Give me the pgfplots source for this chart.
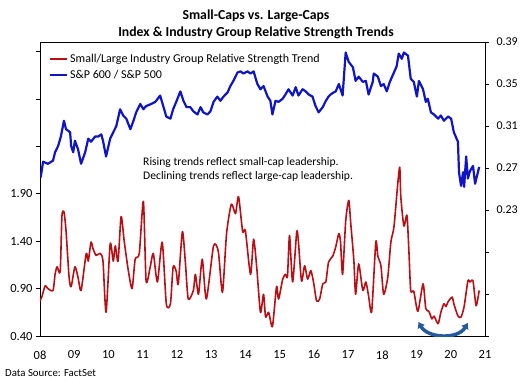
\documentclass[border=0pt]{standalone}
\usepackage{fontspec}
\setmainfont{Carlito}
\usepackage{pgfplots}
\pgfplotsset{compat=1.18}
\usetikzlibrary{arrows.meta}
\definecolor{redline}{RGB}{185,15,20}
\definecolor{blueline}{RGB}{15,20,200}
\definecolor{arrowblue}{RGB}{35,90,160}
\begin{document}
\begin{tikzpicture}[x=1pt,y=1pt]
\useasboundingbox (-40,-45) rectangle (485,336);
\begin{axis}[
  at={(0,0)}, anchor=south west,
  width=445pt, height=294pt, scale only axis,
  xmin=8, xmax=21, ymin=0.4, ymax=3.5,
  xtick={8,...,21},
  xticklabels={08,09,10,11,12,13,14,15,16,17,18,19,20,21},
  ytick={0.4,0.9,1.4,1.9,2.4,2.9,3.4},
  yticklabels={0.40,0.90,1.40,1.90,{},{},{}},
  ytick pos=left,
  tick align=outside,
  major tick length=4pt,
  x tick style={draw=none},
  xticklabel style={yshift=-7pt},
  tick label style={font=\fontsize{12.5}{14}\selectfont},
  axis line style={black, line width=0.6pt},
  tick style={black, line width=0.6pt},
  legend style={at={(0,1)}, anchor=north west, draw=none, fill=none,
    font=\fontsize{12}{14}\selectfont, row sep=2pt, xshift=6pt, yshift=-8pt,
    cells={anchor=west}},
  legend image code/.code={\draw[#1] (0pt,0pt) -- (17pt,0pt);},
  clip=true,
]
\addplot[redline, line width=1.6pt, line join=round, smooth, tension=0.4] coordinates {
(8.00,0.77) (8.06,0.82) (8.15,0.93) (8.23,0.90) (8.38,0.88) (8.44,1.05) (8.50,1.13) (8.59,1.08)
(8.64,1.66) (8.70,1.71) (8.76,1.51) (8.85,1.02) (8.91,0.92) (9.02,1.13) (9.11,1.02) (9.20,0.88)
(9.35,1.27) (9.41,1.19) (9.49,1.39) (9.55,1.32) (9.64,1.25) (9.76,1.27) (9.84,1.19) (9.93,0.65)
(10.05,1.37) (10.14,1.19) (10.20,1.35) (10.28,1.19) (10.37,1.66) (10.46,1.40) (10.58,1.09) (10.69,0.90)
(10.78,1.21) (10.90,1.27) (11.02,1.82) (11.10,0.98) (11.22,1.13) (11.31,1.27) (11.43,0.97) (11.57,1.39)
(11.69,0.74) (11.81,0.74) (11.89,1.13) (11.98,1.08) (12.04,0.95) (12.16,1.50) (12.25,1.16) (12.33,0.79)
(12.48,0.88) (12.54,1.05) (12.63,0.84) (12.74,1.21) (12.86,0.79) (13.07,1.35) (13.21,1.29) (13.33,0.86)
(13.45,1.48) (13.59,1.79) (13.71,1.69) (13.80,1.87) (13.92,1.50) (14.00,1.51) (14.15,1.05) (14.24,1.42)
(14.33,1.13) (14.44,0.65) (14.53,0.84) (14.59,0.60) (14.68,0.65) (14.79,0.50) (14.91,0.92) (14.97,0.79)
(15.09,1.00) (15.17,1.05) (15.23,1.03) (15.29,1.46) (15.38,0.97) (15.50,1.50) (15.55,1.39) (15.64,0.98)
(15.73,1.14) (15.82,1.00) (15.91,1.09) (15.99,0.97) (16.08,0.77) (16.17,0.79) (16.26,0.95) (16.35,0.97)
(16.43,1.18) (16.55,1.24) (16.64,1.34) (16.73,1.48) (16.78,1.39) (16.84,1.05) (16.93,1.61) (17.02,1.83)
(17.08,1.58) (17.17,1.19) (17.22,0.84) (17.31,1.16) (17.43,0.88) (17.52,0.97) (17.60,0.82) (17.69,0.66)
(17.81,1.39) (17.87,1.24) (17.96,1.14) (18.04,0.84) (18.16,1.02) (18.25,1.39) (18.34,1.55) (18.45,2.00)
(18.51,2.18) (18.54,1.87) (18.63,1.56) (18.72,1.67) (18.78,1.27) (18.83,0.88) (18.92,0.87) (19.04,0.66)
(19.19,0.95) (19.27,0.69) (19.36,0.66) (19.45,0.58) (19.51,0.61) (19.63,0.53) (19.71,0.65) (19.80,0.74)
(19.86,0.71) (19.92,0.76) (20.04,0.81) (20.09,0.74) (20.21,0.61) (20.30,0.60) (20.39,0.71) (20.50,0.98)
(20.56,0.97) (20.65,0.98) (20.74,0.72) (20.83,0.88)
};
\addlegendentry{Small/Large Industry Group Relative Strength Trend}
\addlegendimage{blueline, line width=2pt}
\addlegendentry{S\&P 600 / S\&P 500}
\draw[arrowblue, line width=3.5pt, {Latex[length=6pt,width=9pt]}-{Latex[length=6pt,width=9pt]}]
  (axis cs:19.05,0.55) to[out=-60,in=-120] (axis cs:20.50,0.54);
\end{axis}
\begin{axis}[
  at={(0,0)}, anchor=south west,
  width=445pt, height=294pt, scale only axis,
  xmin=8, xmax=21, ymin=0.11, ymax=0.39,
  axis x line=none,
  axis y line*=right,
  ytick={0.11,0.15,0.19,0.23,0.27,0.31,0.35,0.39},
  yticklabels={{},{},{},0.23,0.27,0.31,0.35,0.39},
  tick align=outside,
  major tick length=4pt,
  yticklabel style={xshift=4pt},
  tick label style={font=\fontsize{12}{14}\selectfont},
  axis line style={black, line width=0.6pt},
  tick style={black, line width=0.6pt},
]
\addplot[blueline, line width=2.2pt, line join=round] coordinates {
(8.02,0.261) (8.09,0.276) (8.23,0.274) (8.38,0.277) (8.44,0.285) (8.53,0.291) (8.61,0.300) (8.70,0.315)
(8.76,0.307) (8.88,0.304) (8.91,0.291) (8.97,0.285) (9.02,0.296) (9.11,0.288) (9.20,0.274) (9.32,0.285)
(9.41,0.298) (9.49,0.295) (9.61,0.300) (9.70,0.300) (9.79,0.302) (9.84,0.296) (9.93,0.281) (10.05,0.298)
(10.14,0.304) (10.23,0.310) (10.34,0.326) (10.43,0.320) (10.52,0.317) (10.64,0.307) (10.72,0.314) (10.81,0.323)
(10.93,0.331) (11.02,0.326) (11.10,0.329) (11.25,0.331) (11.37,0.333) (11.51,0.339) (11.60,0.329) (11.69,0.319)
(11.81,0.317) (11.89,0.326) (11.98,0.333) (12.10,0.343) (12.19,0.334) (12.28,0.328) (12.39,0.328) (12.48,0.324)
(12.60,0.321) (12.69,0.328) (12.77,0.323) (12.89,0.321) (12.98,0.324) (13.07,0.333) (13.18,0.338) (13.27,0.334)
(13.36,0.338) (13.48,0.342) (13.56,0.348) (13.65,0.353) (13.77,0.361) (13.86,0.362) (13.94,0.360) (14.06,0.362)
(14.15,0.360) (14.24,0.362) (14.35,0.350) (14.44,0.345) (14.53,0.348) (14.65,0.338) (14.73,0.334) (14.79,0.321)
(14.88,0.334) (14.97,0.333) (15.09,0.336) (15.17,0.340) (15.26,0.345) (15.38,0.339) (15.47,0.347) (15.55,0.339)
(15.67,0.345) (15.76,0.343) (15.85,0.340) (15.96,0.338) (16.05,0.329) (16.14,0.323) (16.26,0.328) (16.35,0.334)
(16.43,0.338) (16.49,0.340) (16.58,0.342) (16.64,0.343) (16.73,0.350) (16.84,0.339) (16.93,0.380) (17.02,0.371)
(17.14,0.366) (17.22,0.353) (17.31,0.357) (17.43,0.352) (17.52,0.353) (17.60,0.340) (17.72,0.352) (17.75,0.360)
(17.87,0.357) (17.96,0.348) (18.04,0.350) (18.13,0.343) (18.22,0.352) (18.34,0.361) (18.42,0.367) (18.48,0.379)
(18.57,0.374) (18.63,0.380) (18.75,0.377) (18.83,0.355) (18.92,0.352) (19.01,0.338) (19.07,0.353) (19.19,0.345)
(19.27,0.333) (19.33,0.336) (19.42,0.323) (19.51,0.321) (19.63,0.317) (19.71,0.320) (19.80,0.315) (19.92,0.319)
(20.01,0.317) (20.09,0.304) (20.21,0.295) (20.24,0.266) (20.30,0.253) (20.36,0.266) (20.39,0.252) (20.45,0.281)
(20.50,0.260) (20.56,0.267) (20.65,0.272) (20.71,0.255) (20.80,0.267) (20.83,0.271)
};
\end{axis}
\node[anchor=base, font=\fontsize{13.75}{16}\bfseries\selectfont] at (216,316) {Small-Caps vs. Large-Caps};
\node[anchor=base, font=\fontsize{13.75}{16}\bfseries\selectfont] at (216,299) {Index \& Industry Group Relative Strength Trends};
\node[anchor=base west, inner sep=0pt, font=\fontsize{11.6}{13}\selectfont] at (103,171) {Rising trends reflect small-cap leadership.};
\node[anchor=base west, inner sep=0pt, font=\fontsize{11.6}{13}\selectfont] at (103,157) {Declining trends reflect large-cap leadership.};
\node[anchor=base west, inner sep=0pt, font=\fontsize{10.8}{12}\selectfont] at (-35,-40) {Data Source: FactSet};
\end{tikzpicture}
\end{document}
